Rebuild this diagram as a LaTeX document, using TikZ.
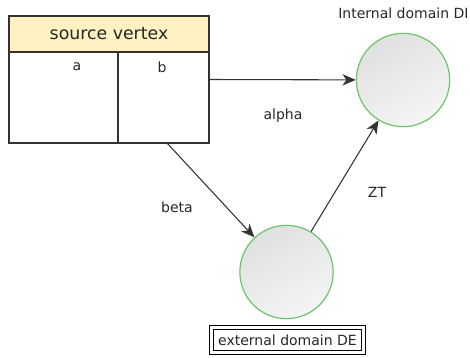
\documentclass[tikz,border=0pt]{standalone}
\usepackage{fontspec}
\setmainfont{DejaVu Sans}
\usetikzlibrary{arrows.meta}
\definecolor{hdr}{HTML}{FFF2C2}
\definecolor{edge}{HTML}{333333}
\definecolor{grn}{HTML}{6CC46C}
\tikzset{
  lbl/.style={font=\fontsize{10.5}{12}\selectfont, text=black!85, inner sep=0pt},
  dom/.style={circle, draw=grn, line width=0.9pt, minimum size=70pt, inner sep=0pt,
              shading=axis, top color=black!12, bottom color=black!4, shading angle=30},
  conn/.style={draw=edge, line width=0.8pt, -{Stealth[length=10pt,width=8.5pt,inset=3pt]}},
  tbl/.style={draw=edge, line width=0.8pt},
}
\begin{document}
\begin{tikzpicture}[x=0.75pt,y=-0.75pt]
\useasboundingbox (0,0) rectangle (470,357);
% source vertex table
\fill[hdr] (9,16) rectangle (209,52);
\node[tbl, minimum width=150pt, minimum height=95.25pt, inner sep=0pt] (src) at (109,79.5) {};
\draw[tbl] (9,52) -- (209,52);
\draw[tbl] (118,52) -- (118,143);
\node[font=\fontsize{13}{15}\selectfont, text=black!85, inner sep=0pt] (hdrtxt) at (109,34) {source vertex};
\node[lbl] (ca) at (77,67) {a};
\node[lbl] (cb) at (162,67) {b};
% domains
\node[dom] (top) at (403,80) {};
\node[dom] (bot) at (286.5,272) {};
\node[lbl, anchor=west] (toplbl) at (338,13) {Internal domain DI};
\node[draw=black, double=white, double distance=2.25pt, line width=0.75pt,
      minimum width=114pt, minimum height=18.75pt, inner sep=0pt, lbl] (botlbl) at (287.5,340) {external domain DE};
% connectors
\draw[conn] (src.east) -- (top);
\coordinate (bs) at (167,143);
\draw[conn] (bs) -- (bot);
\draw[conn] (bot) -- (top);
% labels
\node[lbl] (alpha) at (283,116) {alpha};
\node[lbl] (beta) at (177,207) {beta};
\node[lbl] (zt) at (377,192) {ZT};
\end{tikzpicture}
\end{document}
